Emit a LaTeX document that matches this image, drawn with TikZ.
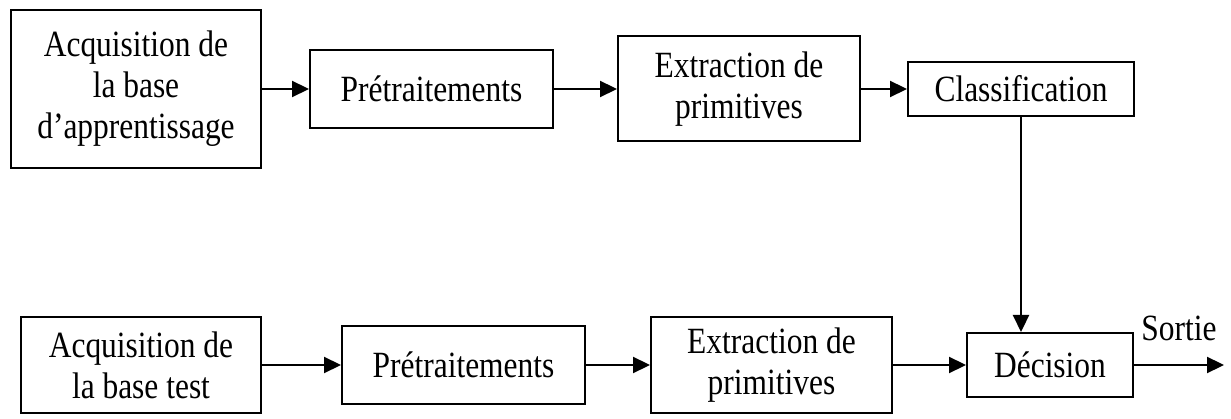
\documentclass[tikz,border=0pt]{standalone}
\usepackage{fontspec}
\setmainfont{Liberation Serif}[FakeStretch=0.85]
\usetikzlibrary{positioning,arrows.meta}

\tikzset{
  bloc/.style={draw, line width=2pt, align=center, inner sep=0pt},
  fleche/.style={line width=2.2pt, -{Triangle[length=17pt,width=16pt]}}
}

\begin{document}
\begin{tikzpicture}[x=1pt, y=1pt, font=\fontsize{37}{41}\selectfont]
\useasboundingbox (0,0) rectangle (1231,-419);

% apprentissage
\node[bloc, minimum width=250pt, minimum height=158pt] (acqA) at (136,-89) {Acquisition de\\la base\\d’apprentissage};
\node[bloc, minimum width=243pt, minimum height=78pt] (preA) at (431.5,-89) {Prétraitements};
\node[bloc, minimum width=242pt, minimum height=105pt] (extA) at (739,-89) {Extraction de\\primitives};
\node[bloc, minimum width=226pt, minimum height=54pt] (clas) at (1021,-89) {Classification};

% test
\node[bloc, minimum width=240pt, minimum height=96pt] (acqB) at (141,-365) {Acquisition de\\la base test};
\node[bloc, minimum width=243pt, minimum height=78pt] (preB) at (463.5,-365) {Prétraitements};
\node[bloc, minimum width=241pt, minimum height=96pt] (extB) at (771.5,-365) {Extraction de\\primitives};
\node[bloc, minimum width=166pt, minimum height=64pt] (deci) at (1050,-365) {Décision};
\coordinate (sortie) at (1224,-365);

\draw
	(acqA) edge[fleche] (preA)
	(preA) edge[fleche] (extA)
	(extA) edge[fleche] (clas)
	(clas.south) edge[fleche] (clas.south |- deci.north)
	(acqB) edge[fleche] (preB)
	(preB) edge[fleche] (extB)
	(extB) edge[fleche] (deci)
	(deci) edge[fleche] node[above=20pt]{Sortie} (sortie)
;
\end{tikzpicture}
\end{document}
